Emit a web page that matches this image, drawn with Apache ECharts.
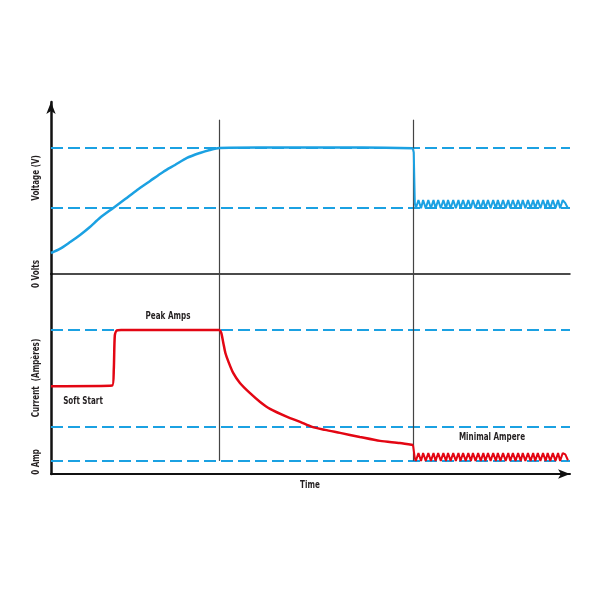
<!DOCTYPE html>
<html>
<head>
<meta charset="utf-8">
<script src="https://cdn.jsdelivr.net/npm/echarts@6/dist/echarts.min.js"></script>
<style>
  html, body { margin: 0; padding: 0; background: #fff; }
  #chart { width: 600px; height: 600px; }
</style>
</head>
<body>
<div id="chart"></div>
<script>
// Voltage / current over time (arbitrary units)
const voltCurve = [
  [0, 1.66], [1.7, 1.98], [3.7, 2.53], [5.6, 3.09], [7.5, 3.72], [9.4, 4.43],
  [12.0, 5.22], [14.3, 5.93], [16.6, 6.65], [19.1, 7.36], [21.6, 8.07], [23.9, 8.62],
  [26.2, 9.18], [28.7, 9.57], [30.6, 9.81], [32.4, 9.97], [40, 10], [50, 10],
  [60, 10], [69.7, 9.95]
];
const ampCurve = [
  [0, 5.7], [11.8, 5.75], [12.1, 7.0], [12.3, 9.6], [12.7, 9.97], [13.5, 10],
  [32.4, 10], [32.8, 9.77], [33.2, 9.01], [33.6, 8.24], [34.2, 7.56], [35.1, 6.72],
  [36.4, 5.95], [38.3, 5.19], [40.3, 4.5], [42.2, 3.97], [45.5, 3.36], [48.0, 2.98],
  [50.3, 2.6], [52.8, 2.37], [55.7, 2.14], [59.5, 1.83], [63.4, 1.53], [67.2, 1.37],
  [69.75, 1.22]
];
const rippleTime = [
  69.9, 70.1,
  70.3, 70.8, 71.3, 71.7, 72.2, 72.7, 73.2, 73.7, 74.1, 74.6, 75.1, 75.6, 76.1, 76.5,
  77.0, 77.5, 78.0, 78.5, 78.9, 79.4, 79.9, 80.4, 80.9, 81.3, 81.8, 82.3, 82.8, 83.3,
  83.7, 84.2, 84.7, 85.2, 85.7, 86.1, 86.6, 87.1, 87.6, 88.1, 88.5, 89.0, 89.5, 90.0,
  90.5, 90.9, 91.4, 91.9, 92.4, 92.9, 93.3, 93.8, 94.3, 94.8, 95.3, 95.7, 96.2, 96.7,
  97.2, 97.7, 98.1, 98.6, 99.1, 99.6
];
const voltRipple = [
  9.6, 5.6,
  5.2, 5.85, 5.2, 5.85, 5.2, 5.85, 5.2, 5.85, 5.2, 5.85, 5.2, 5.85, 5.2, 5.85,
  5.2, 5.85, 5.2, 5.85, 5.2, 5.85, 5.2, 5.85, 5.2, 5.85, 5.2, 5.85, 5.2, 5.85,
  5.2, 5.85, 5.2, 5.85, 5.2, 5.85, 5.2, 5.85, 5.2, 5.85, 5.2, 5.85, 5.2, 5.85,
  5.2, 5.85, 5.2, 5.85, 5.2, 5.85, 5.2, 5.85, 5.2, 5.85, 5.2, 5.85, 5.2, 5.85,
  5.2, 5.85, 5.2, 5.85, 5.6, 5.2
];
const ampRipple = [
  1.1, 0.2,
  0, 0.6, 0, 0.6, 0, 0.6, 0, 0.6, 0, 0.6, 0, 0.6, 0, 0.6,
  0, 0.6, 0, 0.6, 0, 0.6, 0, 0.6, 0, 0.6, 0, 0.6, 0, 0.6,
  0, 0.6, 0, 0.6, 0, 0.6, 0, 0.6, 0, 0.6, 0, 0.6, 0, 0.6,
  0, 0.6, 0, 0.6, 0, 0.6, 0, 0.6, 0, 0.6, 0, 0.6, 0, 0.6,
  0, 0.6, 0, 0.6, 0.5, 0.05
];
const voltLevels = [10, 5.22];
const ampLevels = [10, 2.6, 0];
const phaseTimes = [32.4, 69.75];

const BLUE = '#1ba1e2';
const RED = '#e30613';
const FONT = "'DejaVu Sans', sans-serif";

const chart = echarts.init(document.getElementById('chart'));

const dashed = (vals) => ({
  silent: true, z: 1,
  symbol: 'none',
  label: { show: false },
  lineStyle: { color: BLUE, width: 2, type: [12, 5] },
  data: vals.map(v => ({ yAxis: v }))
});

const verticals = (top) => ({
  silent: true, z: 1, symbol: 'none', label: { show: false },
  lineStyle: { color: '#444', width: 1.2, type: 'solid' },
  data: phaseTimes.map(t => [{ coord: [t, top] }, { coord: [t, 0] }])
});

const label = (text, x, y, rot) => ({
  type: 'text',
  x, y,
  rotation: rot ? Math.PI / 2 : 0,
  scaleX: 0.72,
  style: {
    text, fill: '#231f20', font: 'bold 10px ' + FONT,
    align: 'center', verticalAlign: 'middle'
  }
});

const ripple = (curve, vals) => [curve[curve.length - 1]].concat(rippleTime.map((t, i) => [t, vals[i]]));

chart.setOption({
  animation: false,
  grid: [
    { left: 51, right: 30, top: 102, height: 172 },
    { left: 51, right: 30, top: 274, height: 200 }
  ],
  xAxis: [0, 1].map(i => ({
    type: 'value', gridIndex: i, min: 0, max: 100,
    axisLine: {
      onZero: false,
      lineStyle: { color: '#111', width: i ? 2 : 1.5 },
      symbol: i ? ['none', 'arrow'] : 'none',
      symbolSize: [7, 12]
    },
    axisTick: { show: false }, axisLabel: { show: false }, splitLine: { show: false }
  })),
  yAxis: [
    {
      type: 'value', gridIndex: 0, min: 0, max: 13.6,
      axisLine: { show: true, lineStyle: { color: '#111', width: 2.5 }, symbol: ['none', 'arrow'], symbolSize: [7, 12] },
      axisTick: { show: false }, axisLabel: { show: false }, splitLine: { show: false }
    },
    {
      type: 'value', gridIndex: 1, min: -1, max: 14.27,
      axisLine: { show: true, onZero: false, lineStyle: { color: '#111', width: 2.5 } },
      axisTick: { show: false }, axisLabel: { show: false }, splitLine: { show: false }
    }
  ],
  series: [
    { type: 'line', xAxisIndex: 0, yAxisIndex: 0, z: 1, silent: true, data: [], markLine: dashed(voltLevels) },
    { type: 'line', xAxisIndex: 0, yAxisIndex: 0, z: 1, silent: true, data: [], markLine: verticals(12.2) },
    { type: 'line', xAxisIndex: 1, yAxisIndex: 1, z: 1, silent: true, data: [], markLine: dashed(ampLevels) },
    { type: 'line', xAxisIndex: 1, yAxisIndex: 1, z: 1, silent: true, data: [], markLine: verticals(14.27) },
    {
      type: 'line', xAxisIndex: 0, yAxisIndex: 0, z: 3,
      showSymbol: false, smooth: 0.25, silent: true,
      lineStyle: { color: BLUE, width: 2.5 },
      data: voltCurve
    },
    {
      type: 'line', xAxisIndex: 0, yAxisIndex: 0, z: 3,
      showSymbol: false, smooth: false, silent: true,
      lineStyle: { color: BLUE, width: 2 },
      data: ripple(voltCurve, voltRipple)
    },
    {
      type: 'line', xAxisIndex: 1, yAxisIndex: 1, z: 3,
      showSymbol: false, smooth: 0.25, silent: true,
      lineStyle: { color: RED, width: 2.5 },
      data: ampCurve
    },
    {
      type: 'line', xAxisIndex: 1, yAxisIndex: 1, z: 3,
      showSymbol: false, smooth: false, silent: true,
      lineStyle: { color: RED, width: 2 },
      data: ripple(ampCurve, ampRipple)
    }
  ],
  graphic: [
    label('Voltage (V)', 36, 178, true),
    label('0 Volts', 36, 274, true),
    label('Current  (Ampères)', 36, 378, true),
    label('0 Amp', 36, 462, true),
    label('Peak Amps', 168, 316),
    label('Soft Start', 83, 401),
    label('Minimal Ampere', 492, 437),
    label('Time', 310, 485)
  ]
});
</script>
</body>
</html>
